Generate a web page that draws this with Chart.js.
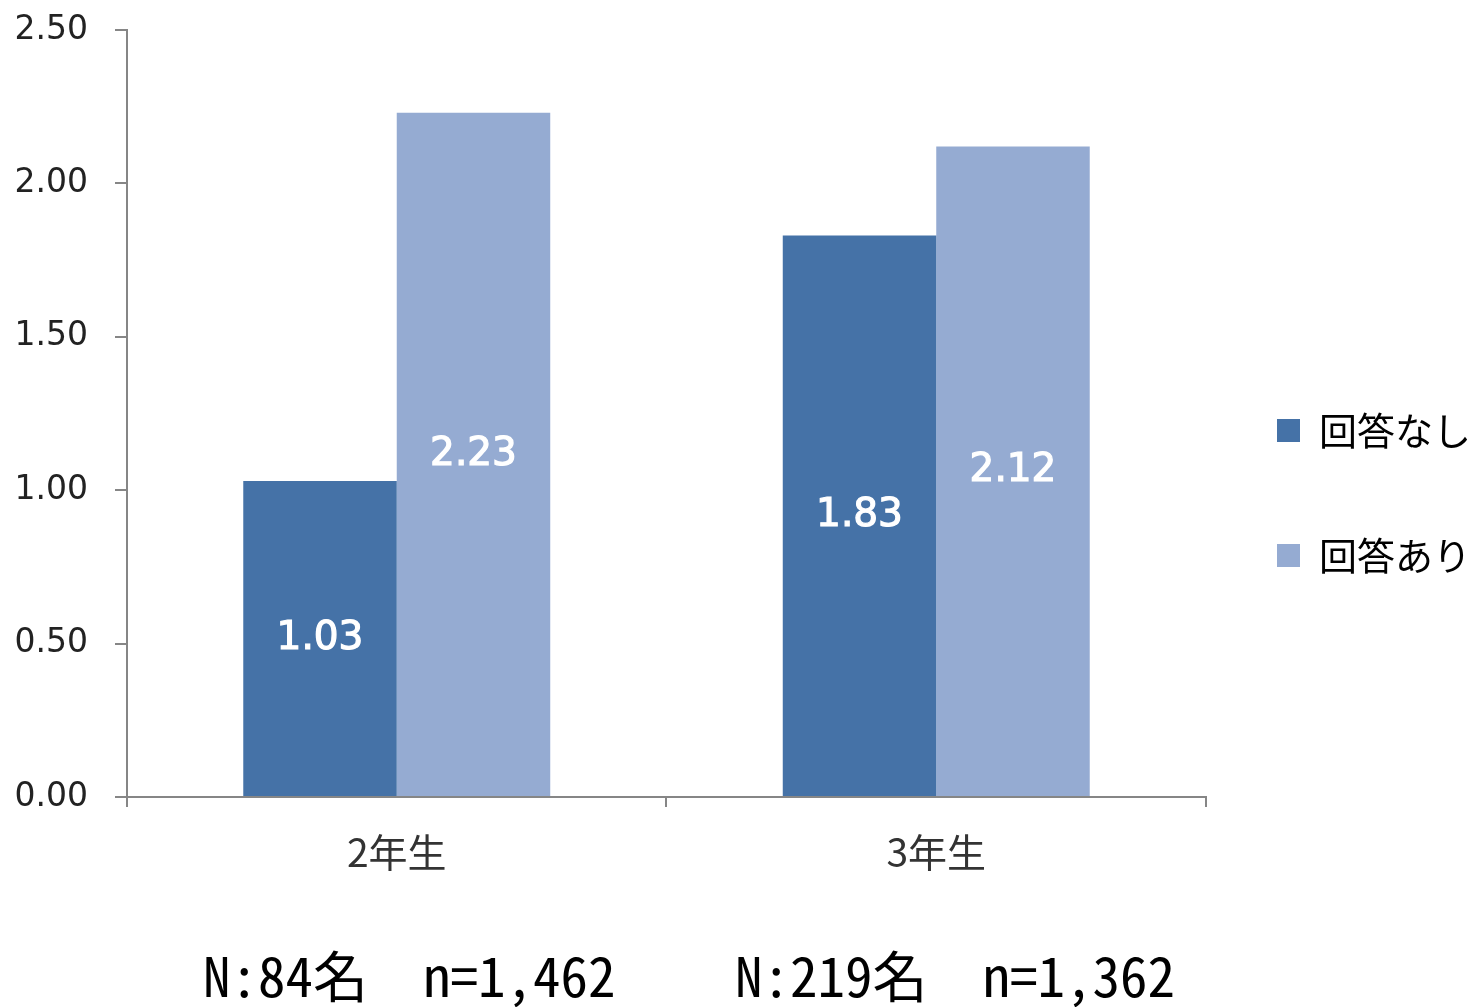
<!DOCTYPE html>
<html>
<head>
    <meta charset="utf-8">
    <title>回答なし / 回答あり</title>
    <style>
        body {
            margin: 0;
            padding: 0;
            background: #fff;
        }

        .wrap {
            position: relative;
            width: 1470px;
            height: 1007px;
        }

        .note {
            position: absolute;
            top: 946px;
            font-family: "Noto Sans Mono CJK JP", "Noto Sans CJK JP", sans-serif;
            font-size: 55px;
            line-height: 55px;
            color: #000;
            white-space: pre;
        }
    </style>
</head>
<body>
    <div class="wrap">
        <canvas id="chart" width="1470" height="1007"></canvas>
        <div class="note" style="left:203px">N:84名　n=1,462</div>
        <div class="note" style="left:735px">N:219名　n=1,362</div>
    </div>
    <script src="https://cdn.jsdelivr.net/npm/chart.js"></script>
    <script>
        // data
        var grades = ['2年生', '3年生'];
        var seriesNames = ['回答なし', '回答あり'];
        var noAnswer = [1.03, 1.83];
        var withAnswer = [2.23, 2.12];
        var yTicks = [0, 0.5, 1.0, 1.5, 2.0, 2.5];

        var axisGray = '#868686';

        // white value text in the middle of each bar
        var barValueLabels = {
            id: 'barValueLabels',
            afterDatasetsDraw: function(chart) {
                var ctx = chart.ctx;
                ctx.save();
                ctx.font = '39px "DejaVu Sans"';
                ctx.fillStyle = '#fff';
                ctx.strokeStyle = '#fff';
                ctx.lineWidth = 1.2;
                ctx.textAlign = 'center';
                ctx.textBaseline = 'middle';
                chart.data.datasets.forEach(function(ds, i) {
                    chart.getDatasetMeta(i).data.forEach(function(bar, j) {
                        var p = bar.getProps(['x', 'y', 'base'], true);
                        var txt = ds.data[j].toFixed(2);
                        ctx.fillText(txt, p.x, (p.y + p.base) / 2);
                        ctx.strokeText(txt, p.x, (p.y + p.base) / 2);
                    });
                });
                ctx.restore();
            }
        };

        new Chart(document.getElementById('chart'), {
            type: 'bar',
            data: {
                labels: grades,
                datasets: [{
                    label: seriesNames[0],
                    data: noAnswer,
                    backgroundColor: '#4572A7',
                    borderWidth: 0
                }, {
                    label: seriesNames[1],
                    data: withAnswer,
                    backgroundColor: '#95ABD2',
                    borderWidth: 0
                }]
            },
            options: {
                responsive: false,
                animation: false,
                events: [],
                categoryPercentage: 0.569,
                barPercentage: 1.0,
                layout: {
                    padding: { top: 30, left: 0, right: -11, bottom: 35 }
                },
                plugins: {
                    tooltip: { enabled: false },
                    legend: {
                        position: 'right',
                        labels: {
                            boxWidth: 23,
                            boxHeight: 23,
                            padding: 71,
                            color: '#000',
                            font: { family: '"Noto Sans CJK JP"', size: 38, lineHeight: '54px' },
                            generateLabels: function(chart) {
                                return chart.data.datasets.map(function(ds, i) {
                                    return {
                                        text: [ds.label],
                                        fillStyle: ds.backgroundColor,
                                        strokeStyle: ds.backgroundColor,
                                        lineWidth: 0,
                                        hidden: false,
                                        datasetIndex: i
                                    };
                                });
                            }
                        }
                    }
                },
                scales: {
                    x: {
                        afterFit: function(scale) { scale.height = 175; },
                        grid: {
                            display: true,
                            drawOnChartArea: false,
                            drawTicks: true,
                            tickLength: 10,
                            offset: true,
                            color: axisGray,
                            lineWidth: 2
                        },
                        border: { display: true, color: axisGray, width: 2 },
                        ticks: {
                            padding: 22,
                            color: '#333',
                            font: { family: '"Noto Sans CJK JP"', size: 39 }
                        }
                    },
                    y: {
                        min: 0,
                        max: 2.5,
                        afterFit: function(scale) {
                            scale.width = 127;
                            scale.paddingTop = 0;
                            scale.paddingBottom = 0;
                        },
                        afterBuildTicks: function(scale) {
                            scale.ticks = yTicks.map(function(v) { return { value: v }; });
                        },
                        grid: {
                            display: true,
                            drawOnChartArea: false,
                            drawTicks: true,
                            tickLength: 12,
                            color: axisGray,
                            lineWidth: 2
                        },
                        border: { display: true, color: axisGray, width: 2 },
                        ticks: {
                            padding: 27,
                            color: '#222',
                            font: { family: '"DejaVu Sans"', size: 33 },
                            callback: function(v) { return Number(v).toFixed(2); }
                        }
                    }
                }
            },
            plugins: [barValueLabels]
        });
    </script>
</body>
</html>
